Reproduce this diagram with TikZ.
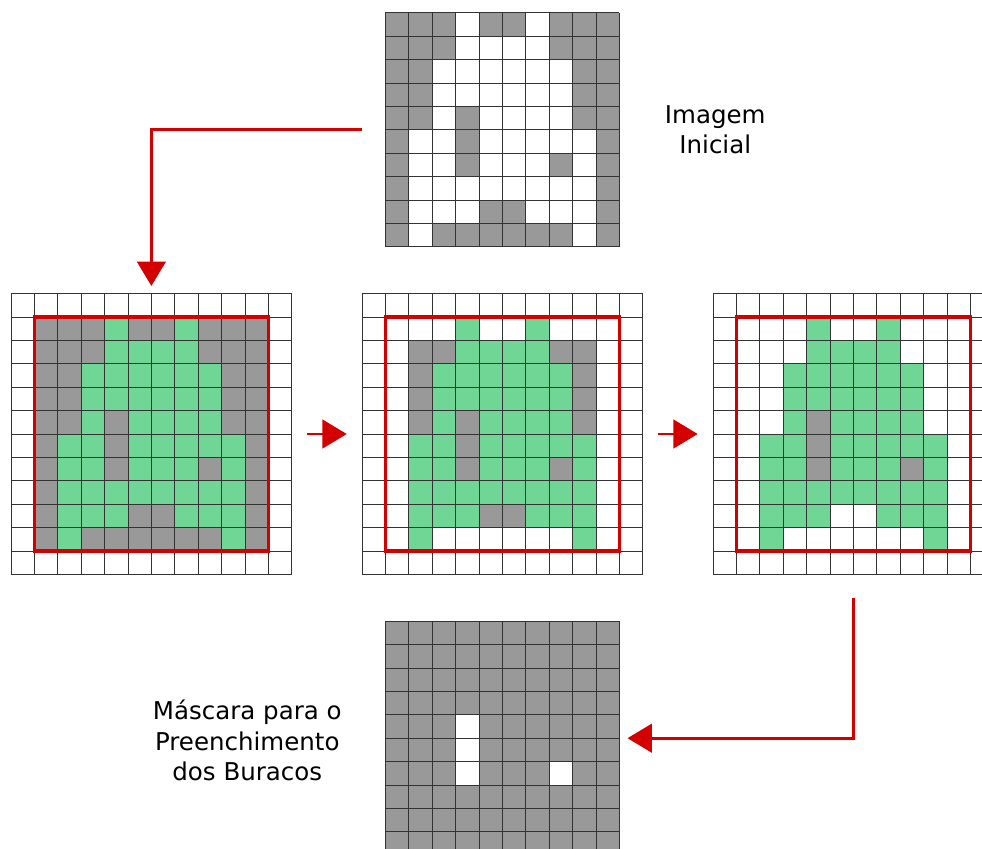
\documentclass[tikz,border=0pt]{standalone}
\usepackage{fontspec}
\setmainfont{DejaVu Sans}
\usepackage{tikz}
\usetikzlibrary{arrows.meta}
\definecolor{g}{HTML}{999999}
\definecolor{v}{HTML}{6FD696}
\colorlet{w}{white}
\definecolor{SetaRed}{HTML}{D40000}

\tikzset{
  linhas/.style={draw=black!80,line width=0.5pt,step=0.5cm},
  moldura/.style={draw=SetaRed,line width=1.9pt},
  seta/.style={draw=SetaRed,line width=1.7pt,-{Triangle[length=5.2mm,width=6.1mm]}},
  rotulo/.style={font=\fontsize{14.9}{18.5}\selectfont,align=center}
}

% fills one cell per entry, rows from the top
\newcommand{\celulas}[3]{%
  \foreach \linha [count=\j from 0] in {#3}
    \foreach \c [count=\i from 0] in \linha
      \fill[fill=\c] (#1+\i,#2-\j) rectangle ++(1,-1);
}

\begin{document}
\begin{tikzpicture}[x=0.5cm,y=0.5cm]
		\useasboundingbox (-0.47,0.55) rectangle (41.5,-35.73);
		\clip (-0.47,0.55) rectangle (41.5,-35.73);
		% imagem inicial
		\celulas{16}{0}{{g,g,g,w,g,g,w,g,g,g},{g,g,g,w,w,w,w,g,g,g},{g,g,w,w,w,w,w,w,g,g},{g,g,w,w,w,w,w,w,g,g},{g,g,w,g,w,w,w,w,g,g},{g,w,w,g,w,w,w,w,w,g},{g,w,w,g,w,w,w,g,w,g},{g,w,w,w,w,w,w,w,w,g},{g,w,w,w,g,g,w,w,w,g},{g,w,g,g,g,g,g,g,w,g}}
		\draw[linhas] (16,0) grid (26,-10);
		% passo 1
		\celulas{1}{-13}{{g,g,g,v,g,g,v,g,g,g},{g,g,g,v,v,v,v,g,g,g},{g,g,v,v,v,v,v,v,g,g},{g,g,v,v,v,v,v,v,g,g},{g,g,v,g,v,v,v,v,g,g},{g,v,v,g,v,v,v,v,v,g},{g,v,v,g,v,v,v,g,v,g},{g,v,v,v,v,v,v,v,v,g},{g,v,v,v,g,g,v,v,v,g},{g,v,g,g,g,g,g,g,v,g}}
		\draw[linhas] (0,-12) grid (12,-24);
		\draw[moldura] (1,-13) rectangle (11,-23);
		% passo 2
		\celulas{16}{-13}{{w,w,w,v,w,w,v,w,w,w},{w,g,g,v,v,v,v,g,g,w},{w,g,v,v,v,v,v,v,g,w},{w,g,v,v,v,v,v,v,g,w},{w,g,v,g,v,v,v,v,g,w},{w,v,v,g,v,v,v,v,v,w},{w,v,v,g,v,v,v,g,v,w},{w,v,v,v,v,v,v,v,v,w},{w,v,v,v,g,g,v,v,v,w},{w,v,w,w,w,w,w,w,v,w}}
		\draw[linhas] (15,-12) grid (27,-24);
		\draw[moldura] (16,-13) rectangle (26,-23);
		% passo 3
		\celulas{31}{-13}{{w,w,w,v,w,w,v,w,w,w},{w,w,w,v,v,v,v,w,w,w},{w,w,v,v,v,v,v,v,w,w},{w,w,v,v,v,v,v,v,w,w},{w,w,v,g,v,v,v,v,w,w},{w,v,v,g,v,v,v,v,v,w},{w,v,v,g,v,v,v,g,v,w},{w,v,v,v,v,v,v,v,v,w},{w,v,v,v,w,w,v,v,v,w},{w,v,w,w,w,w,w,w,v,w}}
		\draw[linhas] (30,-12) grid (42,-24);
		\draw[moldura] (31,-13) rectangle (41,-23);
		% mascara
		\celulas{16}{-26}{{g,g,g,g,g,g,g,g,g,g},{g,g,g,g,g,g,g,g,g,g},{g,g,g,g,g,g,g,g,g,g},{g,g,g,g,g,g,g,g,g,g},{g,g,g,w,g,g,g,g,g,g},{g,g,g,w,g,g,g,g,g,g},{g,g,g,w,g,g,g,w,g,g},{g,g,g,g,g,g,g,g,g,g},{g,g,g,g,g,g,g,g,g,g},{g,g,g,g,g,g,g,g,g,g}}
		\draw[linhas] (16,-26) grid (26,-36);
		% textos
		\node[rotulo] (inicial) at (30.1,-5) {Imagem\\Inicial};
		\node[rotulo] (mascara) at (10.1,-31.1) {Máscara para o\\Preenchimento\\dos Buracos};
		% setas
		\coordinate (ini-out) at (15,-5);
		\coordinate (p1-in) at (6,-11.67);
		\coordinate (p1-out) at (12.65,-18);
		\coordinate (p2-in) at (14.35,-18);
		\coordinate (p2-out) at (27.65,-18);
		\coordinate (p3-in) at (29.35,-18);
		\coordinate (p3-out) at (36,-25);
		\coordinate (masc-in) at (26.35,-31);
		\draw[seta] (ini-out) -| (p1-in);
		\draw[seta] (p1-out) -- (p2-in);
		\draw[seta] (p2-out) -- (p3-in);
		\draw[seta] (p3-out) |- (masc-in);
	\end{tikzpicture}
\end{document}
